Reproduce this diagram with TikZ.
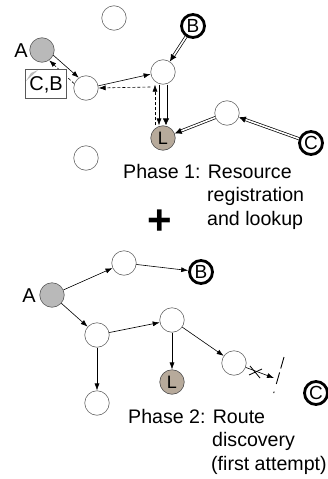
\documentclass[tikz,border=0pt]{standalone}
\usepackage{fontspec}
\setmainfont{Liberation Sans}
\usetikzlibrary{arrows.meta,patterns}
\tikzset{
  x=1pt, y=-1pt,
  peer/.style={circle, draw=gray!80!black, line width=0.6pt, fill=white, minimum size=24.5pt, inner sep=0pt},
  src/.style={peer, draw=gray!70!black, fill=gray!55},
  lookup/.style={peer, draw=gray!60!black, fill={rgb,255:red,183;green,170;blue,155}, font=\fontsize{18}{18}\selectfont},
  target/.style={circle, draw=black, line width=2.8pt, fill=white, minimum size=23pt, inner sep=0pt, font=\fontsize{19}{19}\selectfont},
  lbl/.style={font=\fontsize{19.6}{19.6}\selectfont, anchor=base west, inner sep=0pt},
  msg/.style={-{Latex[length=7pt,width=5pt]}, line width=0.6pt},
  reply/.style={msg, dashed, dash pattern=on 3pt off 2pt},
  reg/.style={-{Latex[length=7pt,width=6.5pt]}, double=white, double distance=1.6pt, line width=0.7pt},
}
\begin{document}
\begin{tikzpicture}
\useasboundingbox (0,0) rectangle (328,479);

% ---------- Phase 1 ----------
\node[peer] (p1top) at (114,18) {};
\node[src] (a1) at (42,50) {};
\node[font=\fontsize{20}{20}\selectfont, inner sep=0pt] (a1lbl) at (21,51) {A};
\node[peer] (p1b) at (86,88) {};
\node[peer] (p1c) at (163,72) {};
\node[target] (b1) at (193,26) {B};
\node[lookup] (l1) at (163,138) {L};
\node[peer] (p1d) at (227,113) {};
\node[target] (c1) at (311,143) {C};
\node[peer] (p1e) at (86,158) {};

\draw[msg] (a1.-25) -- (p1b.125);
\draw[msg] (p1b.10) -- (p1c.190);
\draw[reply] (p1c.west |- 0,87) -- (p1b.east |- 0,88);
\draw[reply] (p1b.160) -- (a1.-55);

% cached entry with folded corner
\draw[gray!70!black, fill=white, line width=0.6pt] (25,69) rectangle (66,98);
\fill[gray!55] (26,81) -- (31,73) -- (38,70) -- cycle;
\node[font=\fontsize{20}{20}\selectfont, inner sep=0pt] (cache) at (46,85) {C,B};

\draw[msg] ([xshift=-4pt]p1c.south) -- ([xshift=-4pt]l1.north);
\draw[reg] ([xshift=3pt]p1c.south) -- ([xshift=3pt]l1.north);
\draw[reply] ([xshift=-8pt]l1.north) -- ([xshift=-8pt]p1c.south);
\draw[reg] (b1) -- (p1c);
\draw[reg] (p1d) -- (l1);
\draw[reg] (c1) -- (p1d);

\node[lbl] (ph1a) at (123,178) {Phase 1: Resource};
\node[lbl] (ph1b) at (207,201.5) {registration};
\node[lbl] (ph1c) at (207,225) {and lookup};

\node[font=\bfseries\fontsize{42}{42}\selectfont, inner sep=0pt] (plus) at (160,222) {+};

% ---------- Phase 2 ----------
\node[src] (a2) at (52,295) {};
\node[font=\fontsize{20}{20}\selectfont, inner sep=0pt] (a2lbl) at (29,296) {A};
\node[peer] (p2a) at (124,263) {};
\node[target] (b2) at (201,272) {B};
\node[peer] (p2b) at (97,335) {};
\node[peer] (p2c) at (172,320) {};
\node[lookup] (l2) at (172,382) {L};
\node[peer] (p2d) at (97,403) {};
\node[peer] (p2e) at (234,363) {};
\node[target] (c2) at (316,393) {C};

\draw[msg] (a2) -- (p2a);
\draw[msg] (p2a) -- (b2);
\draw[msg] (a2) -- (p2b);
\draw[msg] (p2b) -- (p2c);
\draw[msg] (p2b) -- (p2d);
\draw[msg] (p2c) -- (l2);
\draw[msg] (p2c) -- (p2e);

% blocked forwarding towards C
\coordinate (stop) at (274,378);
\draw[msg] (p2e) -- (stop);
\draw[line width=0.8pt] (250,366) -- (260,378) (249,375) -- (262,369);
\coordinate (wa) at (284,357);
\coordinate (wb) at (272,399);
\draw[line width=0.9pt, dash pattern=on 12pt off 4pt on 12pt off 8pt on 1.5pt off 10pt] (wa) -- (wb);

\node[lbl] (ph2a) at (128,423) {Phase 2: Route};
\node[lbl] (ph2b) at (212,446.5) {discovery};
\node[lbl] (ph2c) at (211,470) {(first attempt)};
\end{tikzpicture}
\end{document}
